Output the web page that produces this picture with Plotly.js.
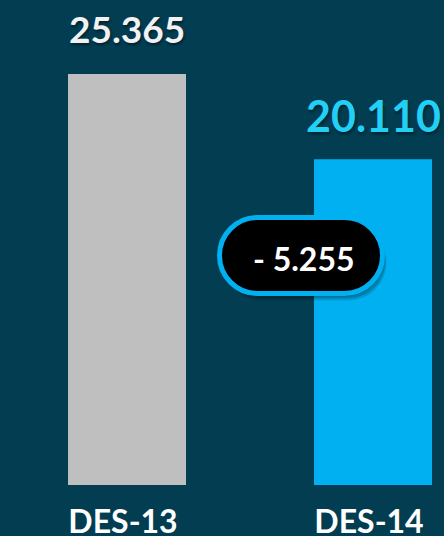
<!DOCTYPE html>
<html>
<head>
<meta charset="utf-8">
<script src="https://cdn.plot.ly/plotly-3.0.1.min.js"></script>
<style>
  html, body { margin: 0; padding: 0; background: #023D52; }
  #chart { width: 444px; height: 536px; }
</style>
</head>
<body>
<div id="chart"></div>
<script>
// ---- data ----
const categories = ['DES-13', 'DES-14'];
const values = [25365, 20110];
const barColors = ['#BFBFBF', '#00B0F0'];
const labelColors = ['#F2F2F2', '#22CFF5'];
const labelSizes = [37, 43];

function fmt(n) {
  return String(Math.abs(n)).replace(/\B(?=(\d{3})+(?!\d))/g, '.');
}
const diff = values[1] - values[0];
const diffText = (diff < 0 ? '- ' : '+ ') + fmt(diff);

const FONT = 'Lato, "Open Sans", sans-serif';
const BG = '#023D52';

const trace = {
  type: 'bar',
  x: categories,
  y: values,
  width: 0.4797,
  marker: { color: barColors, line: { width: 0 } },
  hoverinfo: 'skip'
};

const valueAnnotations = categories.map((c, i) => ({
  x: c, y: values[i], xref: 'x', yref: 'y',
  text: fmt(values[i]),
  showarrow: false,
  yanchor: 'bottom',
  yshift: i === 0 ? 21 : 16,
  font: { family: FONT, size: labelSizes[i], color: labelColors[i], weight: 700,
          shadow: '1px 2px 3px rgba(0,0,0,0.45)' }
}));

// pill geometry (pixels, relative to anchor)
const r = 38, a = 43.5, k = 0.5523;
function pill(dx, dy) {
  const p = (x, y) => (x + dx) + ',' + (y + dy);
  return 'M ' + p(-a, -r) + ' L ' + p(a, -r) +
    ' C ' + p(a + k * r, -r) + ' ' + p(a + r, -k * r) + ' ' + p(a + r, 0) +
    ' C ' + p(a + r, k * r) + ' ' + p(a + k * r, r) + ' ' + p(a, r) +
    ' L ' + p(-a, r) +
    ' C ' + p(-a - k * r, r) + ' ' + p(-a - r, k * r) + ' ' + p(-a - r, 0) +
    ' C ' + p(-a - r, -k * r) + ' ' + p(-a - k * r, -r) + ' ' + p(-a, -r) + ' Z';
}
const anchorX = 301 / 444, anchorY = (485 - 255.5) / 485;
const baseShape = {
  type: 'path', xref: 'paper', yref: 'paper',
  xsizemode: 'pixel', ysizemode: 'pixel',
  xanchor: anchorX, yanchor: anchorY, layer: 'above'
};
const shapes = [
  Object.assign({}, baseShape, { path: pill(4, -7), fillcolor: 'rgba(0,0,0,0.12)', line: { width: 0 } }),
  Object.assign({}, baseShape, { path: pill(3, -5), fillcolor: 'rgba(0,0,0,0.18)', line: { width: 0 } }),
  Object.assign({}, baseShape, { path: pill(1, -3), fillcolor: 'rgba(0,0,0,0.22)', line: { width: 0 } }),
  Object.assign({}, baseShape, { path: pill(0, 0), fillcolor: '#000000', line: { color: '#00B0F0', width: 5 } })
];

const layout = {
  width: 444, height: 536,
  margin: { l: 0, r: 0, t: 0, b: 51, pad: 0 },
  paper_bgcolor: BG, plot_bgcolor: BG,
  showlegend: false,
  hovermode: false,
  xaxis: {
    type: 'category',
    range: [-0.5163, 1.2886],
    showgrid: false, zeroline: false, showline: false, ticks: '',
    tickfont: { family: FONT, size: 32, color: '#FFFFFF', weight: 700 },
    ticklabelstandoff: 15,
    ticklabelshift: -4,
    fixedrange: true
  },
  yaxis: {
    range: [0, 29932],
    visible: false, showgrid: false, zeroline: false, fixedrange: true
  },
  shapes: shapes,
  annotations: valueAnnotations.concat([{
    xref: 'paper', yref: 'paper',
    x: 303.5 / 444, y: (485 - 258.5) / 485,
    xanchor: 'center', yanchor: 'middle',
    text: diffText, showarrow: false,
    font: { family: FONT, size: 32, color: '#FFFFFF', weight: 700 }
  }])
};

Plotly.newPlot('chart', [trace], layout, { displayModeBar: false, staticPlot: true });
</script>
</body>
</html>
